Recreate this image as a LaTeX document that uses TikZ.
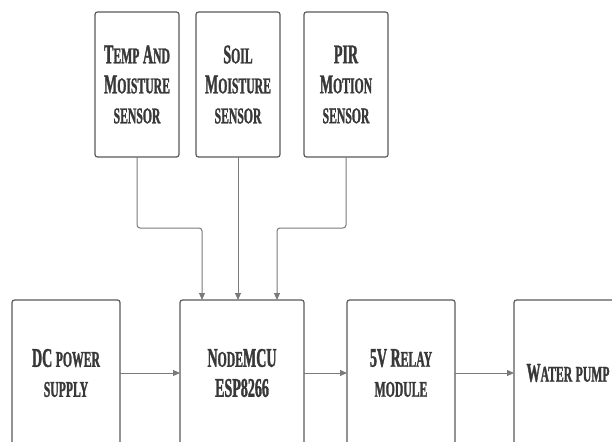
\documentclass[tikz,border=0pt]{standalone}
\usepackage{fontspec}
\usetikzlibrary{arrows.meta}
\newfontfamily\labfont[FakeStretch=0.52,FakeBold=1.2]{Liberation Serif Bold}
\newcommand\smc[1]{{\fontsize{22.5}{30}\selectfont #1}}
\definecolor{boxline}{HTML}{5A5A5A}
\definecolor{connline}{HTML}{7A7A7A}
\definecolor{labtext}{HTML}{383838}
\tikzset{
  box/.style={draw=boxline, line width=1.2pt, rounded corners=2.5pt, fill=white,
    inner sep=0pt, outer sep=0pt, align=center, text=labtext,
    font=\fontsize{27}{30}\labfont},
  topbox/.style={box, minimum width=84pt, minimum height=145pt},
  conn/.style={draw=connline, line width=1pt, rounded corners=3pt,
    -{Triangle[length=7pt,width=6pt]}},
}
\begin{document}
\begin{tikzpicture}[x=1pt,y=-1pt]
\useasboundingbox (0,0) rectangle (612,441);
\clip (0,0) rectangle (612,441);
\fill[white] (0,0) rectangle (612,441);
\node[topbox] (temp) at (137,84.5) {T\smc{EMP} A\smc{ND}\\M\smc{OISTURE}\\\smc{SENSOR}};
\node[topbox] (soil) at (238,84.5) {S\smc{OIL}\\M\smc{OISTURE}\\\smc{SENSOR}};
\node[topbox] (pir) at (346,84.5) {PIR\\M\smc{OTION}\\\smc{SENSOR}};
\node[box, minimum width=108pt, minimum height=146pt] (dc) at (66,373) {DC \smc{POWER}\\\smc{SUPPLY}};
\node[box, minimum width=124pt, minimum height=146pt] (mcu) at (242,373) {N\smc{ODE}MCU\\ESP8266};
\node[box, minimum width=108pt, minimum height=146pt] (relay) at (401,373) {5V R\smc{ELAY}\\\smc{MODULE}};
\node[box, minimum width=108pt, minimum height=146pt] (pump) at (568,373) {W\smc{ATER} \smc{PUMP}};
\coordinate (k1) at (202,228);
\coordinate (k3) at (277,228);
\draw[conn] (temp.south) |- (k1) -- (k1 |- mcu.north);
\draw[conn] (soil.south) -- (soil.south |- mcu.north);
\draw[conn] (pir.south) |- (k3) -- (k3 |- mcu.north);
\draw[conn] (dc) -- (mcu);
\draw[conn] (mcu) -- (relay);
\draw[conn] (relay) -- (pump);
\end{tikzpicture}
\end{document}
